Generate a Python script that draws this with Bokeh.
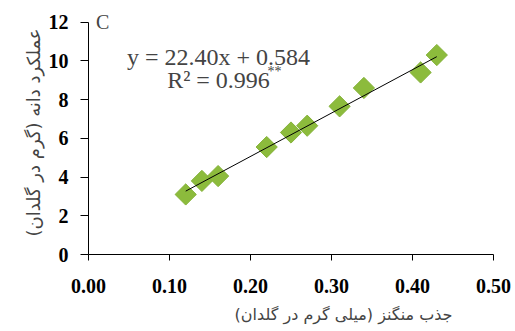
import numpy as np
from bokeh.plotting import figure
from bokeh.models import Label, Range1d, FixedTicker, ColumnDataSource, Title
from bokeh.embed import file_html
from bokeh.resources import INLINE

# data
mn_uptake = [0.12, 0.14, 0.16, 0.22, 0.25, 0.27, 0.31, 0.34, 0.41, 0.43]
grain_yield = [3.1, 3.8, 4.05, 5.55, 6.3, 6.65, 7.65, 8.6, 9.4, 10.3]
slope = 22.40
intercept = 0.584
x_ticks = [0.0, 0.1, 0.2, 0.3, 0.4, 0.5]
y_ticks = [0, 2, 4, 6, 8, 10, 12]
x_title = "جذب منگنز (میلی گرم در گلدان)"
y_title = "عملکرد دانه (گرم در گلدان)"
panel_letter = "C"
eq_text = "y = 22.40x + 0.584"
r2_text = "R² = 0.996"
sig_text = "**"

p = figure(width=515, height=331, output_backend="svg", toolbar_location=None,
           x_range=Range1d(0, 0.5), y_range=Range1d(0, 12.6),
           min_border_left=88, min_border_right=22, min_border_top=10, min_border_bottom=75)
p.outline_line_color = None
p.grid.visible = False
p.background_fill_color = "white"

for ax in (p.xaxis[0], p.yaxis[0]):
    ax.axis_line_color = "black"
    ax.axis_line_width = 1
    ax.major_tick_line_color = "black"
    ax.major_tick_in = 0
    ax.minor_tick_line_color = None
    ax.major_label_text_font = "Liberation Serif"
    ax.major_label_text_font_style = "bold"
    ax.major_label_text_font_size = "20px"
    ax.major_label_text_color = "black"

p.xaxis[0].ticker = FixedTicker(ticks=x_ticks)
p.xaxis[0].major_label_overrides = {t: f"{t:.2f}" for t in x_ticks}
p.xaxis[0].major_tick_out = 6
p.xaxis[0].major_label_standoff = 18
p.yaxis[0].ticker = FixedTicker(ticks=y_ticks)
p.yaxis[0].bounds = (0, 12)
p.yaxis[0].major_tick_out = 8
p.yaxis[0].major_label_standoff = 12

src = ColumnDataSource(dict(x=mn_uptake, y=grain_yield))
p.scatter("x", "y", source=src, marker="square", angle=np.pi / 4, size=15,
          fill_color="#8cbb3c", line_color="#84b238", line_width=1)

# trendline from regression constants over data span
xs = np.array([min(mn_uptake), max(mn_uptake)])
p.line(xs, slope * xs + intercept, line_color="black", line_width=1)

p.add_layout(Label(x=0.0175, y=12, text=panel_letter, text_font="Liberation Serif",
                   text_font_size="20px", text_align="center", text_baseline="middle"))
p.add_layout(Label(x=0.1605, y=10.2, text=eq_text, text_font="Liberation Serif",
                   text_font_size="24px", text_align="center", text_baseline="middle"))
p.add_layout(Label(x=0.1605, y=9.03, text=r2_text, text_font="Liberation Serif",
                   text_font_size="24px", text_align="center", text_baseline="middle"))
p.add_layout(Label(x=0.221, y=9.45, text=sig_text, text_font="Liberation Serif",
                   text_font_size="14px", text_align="left", text_baseline="middle"))

p.add_layout(Title(text=x_title, align="right", offset=41, text_font="DejaVu Sans",
                   text_font_size="16px", text_font_style="normal", standoff=15), "below")
p.add_layout(Title(text=y_title, align="center", offset=12, text_font="DejaVu Sans",
                   text_font_size="18px", text_font_style="normal", standoff=4), "left")

open("out.html", "w").write(file_html(p, INLINE))
